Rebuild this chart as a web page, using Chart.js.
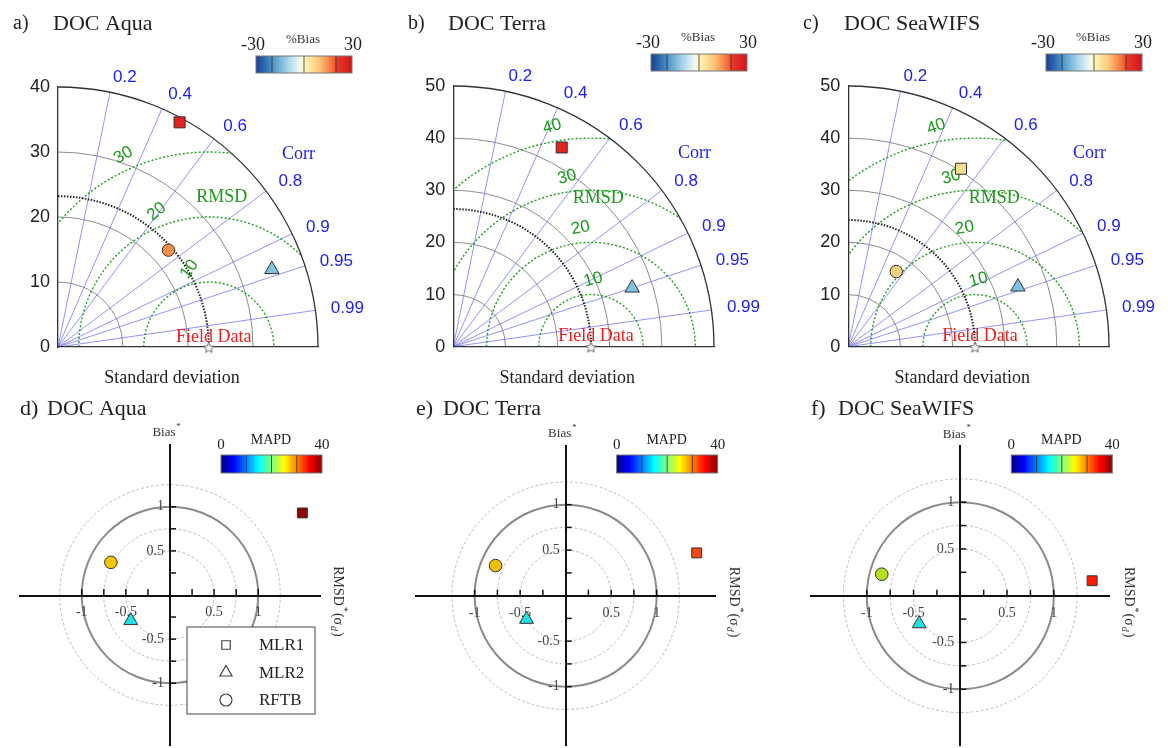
<!DOCTYPE html>
<html lang="en">
<head>
<meta charset="UTF-8">
<title>DOC - Taylor and target diagrams</title>
<script src="https://cdn.jsdelivr.net/npm/chart.js"></script>
<style>
  body { margin: 0; background: #fff; overflow: hidden; width: 1168px; height: 748px; }
  canvas { position: absolute; }
</style>
</head>
<body>
<canvas id="pa" width="390" height="390" style="left:0;top:0"></canvas>
<canvas id="pb" width="390" height="390" style="left:390px;top:0"></canvas>
<canvas id="pc" width="388" height="390" style="left:780px;top:0"></canvas>
<canvas id="pd" width="390" height="380" style="left:0;top:390px"></canvas>
<canvas id="pe" width="390" height="380" style="left:390px;top:390px"></canvas>
<canvas id="pf" width="388" height="380" style="left:780px;top:390px"></canvas>
<script>
// ---------------- data ----------------
const panelNames = ['DOC Aqua', 'DOC Terra', 'DOC SeaWIFS'];
const modelNames = ['MLR1', 'MLR2', 'RFTB'];

// Taylor diagrams (a-c)
const stdMax = [40, 50, 50];
const fieldStd = [23.2, 26.4, 24.3];
const corrTicks = [0.2, 0.4, 0.6, 0.8, 0.9, 0.95, 0.99];
const stdArcs = [[10, 20, 30], [10, 20, 30, 40], [10, 20, 30, 40]];
const rmsdArcs = [[10, 20, 30], [10, 20, 30, 40], [10, 20, 30, 40]];
const mlr1Std = [39.3, 43.5, 40.4];
const mlr1Corr = [0.476, 0.478, 0.535];
const mlr2Std = [35.0, 36.1, 34.5];
const mlr2Corr = [0.940, 0.950, 0.943];
const rftbStd = [22.6, null, 17.1];
const rftbCorr = [0.752, null, 0.538];

// Target diagrams (d-f), normalised
const mlr1Rmsd = [1.50, 1.44, 1.41];
const mlr1Bias = [0.93, 0.47, 0.16];
const mlr2Rmsd = [-0.445, -0.43, -0.44];
const mlr2Bias = [-0.29, -0.26, -0.30];
const rftbRmsd = [-0.67, -0.77, -0.84];
const rftbBias = [0.37, 0.33, 0.23];
const targetTickLabels = [-1, -0.5, 0.5, 1];
const targetTickMarks = [-1, -0.75, -0.5, -0.25, 0.25, 0.5, 0.75, 1];
const targetRings = [0.5, 0.75, 1, 1.25];

// ---------------- styles ----------------
const SERIF = '"Liberation Serif", "Times New Roman", serif';
const SANS = '"Liberation Sans", Arial, sans-serif';
Chart.defaults.font.family = SANS;

// marker colours (from the %Bias and MAPD colour bars)
const biasColor = {
  MLR1: ['#e4211c', '#e4231f', '#fbdc8c'],
  MLR2: ['#80c4df', '#80c4df', '#7cc2de'],
  RFTB: ['#f0904b', null, '#f7d27c']
};
const mapdColor = {
  MLR1: ['#8c0000', '#f24a12', '#ff1a00'],
  MLR2: ['#22e0e4', '#22e0e4', '#22e0e4'],
  RFTB: ['#f5c400', '#f3c000', '#b5e01e']
};
const shapes = { MLR1: 'rect', MLR2: 'triangle', RFTB: 'circle' };
const radiusTaylor = { MLR1: 7.8, MLR2: 8.3, RFTB: 6.2 };
const radiusTarget = { MLR1: 7, MLR2: 8, RFTB: 6.3 };

const taylorLayout = [
  { pad: {left: 18, right: 72, top: 87, bottom: 43}, letterX: 13, nameX: 53, bar: [256, 56],
    rmsdText: [25.2, 23.1], rmsdLab: [[104, -55], [111, -40], [114, -30]] },
  { pad: {left: 23.3, right: 66, top: 86, bottom: 43.3}, letterX: 18, nameX: 58, bar: [261, 54],
    rmsdText: [27.8, 28.4], rmsdLab: [[88, -15], [95, -10], [98, -15], [100, -15]] },
  { pad: {left: 28.3, right: 59, top: 86, bottom: 43.3}, letterX: 23, nameX: 64, bar: [266, 54],
    rmsdText: [28, 28.4], rmsdLab: [[87, -15], [95, -10], [98, -15], [100, -20]] }
];
const targetLimit = [1.7, 1.65, 1.6];
const targetLayout = [
  { pad: {left: 20, right: 70, top: 55, bottom: 25}, letterX: 20, nameX: 47 },
  { pad: {left: 25.5, right: 64.2, top: 55.5, bottom: 24.2}, letterX: 26, nameX: 53 },
  { pad: {left: 30.7, right: 58.1, top: 56.1, bottom: 24.7}, letterX: 31, nameX: 58 }
];

const biasStops = [[0, '#1c3f94'], [0.08, '#2c64ad'], [0.17, '#4b93c6'], [0.33, '#a6d4ea'],
  [0.46, '#f1f9f4'], [0.5, '#fff7bb'], [0.66, '#fdc474'], [0.8, '#f46a38'], [0.85, '#e8362a'], [1, '#cf161c']];
const jetStops = [[0, '#000080'], [0.125, '#0000ff'], [0.375, '#00ffff'], [0.5, '#80ff80'],
  [0.625, '#ffff00'], [0.875, '#ff0000'], [1, '#800000']];

function starImage(size) {
  const c = document.createElement('canvas');
  c.width = c.height = size;
  const g = c.getContext('2d');
  const r = size / 2 - 1, m = size / 2;
  g.beginPath();
  for (let j = 0; j < 10; j++) {
    const rr = j % 2 ? r * 0.45 : r;
    const a = -Math.PI / 2 + j * Math.PI / 5;
    g.lineTo(m + rr * Math.cos(a), m + 1 + rr * Math.sin(a));
  }
  g.closePath();
  g.fillStyle = '#fff'; g.fill();
  g.strokeStyle = '#666'; g.lineWidth = 1; g.stroke();
  return c;
}

function colorBar(ctx, x0, y0, w, h, stops, cuts) {
  const g = ctx.createLinearGradient(x0, 0, x0 + w, 0);
  stops.forEach(s => g.addColorStop(s[0], s[1]));
  ctx.fillStyle = g;
  ctx.fillRect(x0, y0, w, h);
  ctx.strokeStyle = 'rgba(40,40,40,0.75)';
  ctx.lineWidth = 1;
  cuts.forEach(f => {
    ctx.beginPath(); ctx.moveTo(x0 + f * w, y0); ctx.lineTo(x0 + f * w, y0 + h); ctx.stroke();
  });
  ctx.strokeStyle = '#777';
  ctx.strokeRect(x0, y0, w, h);
}

function text(ctx, str, x, y, font, color, align, base) {
  ctx.font = font;
  ctx.fillStyle = color;
  ctx.textAlign = align || 'center';
  ctx.textBaseline = base || 'middle';
  ctx.fillText(str, x, y);
}

// ---------------- Taylor diagrams ----------------
const taylorDeco = {
  id: 'taylorDeco',
  beforeDraw(chart, args, o) {
    const i = o.idx;
    const {ctx} = chart;
    const xs = chart.scales.x, ys = chart.scales.y;
    const R = stdMax[i], ref = fieldStd[i];
    const ox = xs.getPixelForValue(0), oy = ys.getPixelForValue(0);
    const k = xs.getPixelForValue(1) - ox;
    ctx.save();
    // standard deviation arcs
    ctx.strokeStyle = '#8c8c8c'; ctx.lineWidth = 1;
    stdArcs[i].forEach(s => {
      ctx.beginPath(); ctx.arc(ox, oy, s * k, -Math.PI / 2, 0); ctx.stroke();
    });
    // correlation rays
    ctx.strokeStyle = 'rgba(110,110,255,0.75)';
    corrTicks.forEach(c => {
      const a = Math.acos(c);
      ctx.beginPath(); ctx.moveTo(ox, oy);
      ctx.lineTo(xs.getPixelForValue(R * Math.cos(a)), ys.getPixelForValue(R * Math.sin(a)));
      ctx.stroke();
    });
    // RMSD arcs round the field point, kept inside the quarter circle
    ctx.save();
    ctx.beginPath(); ctx.moveTo(ox, oy); ctx.arc(ox, oy, R * k, -Math.PI / 2, 0); ctx.closePath(); ctx.clip();
    ctx.strokeStyle = '#1aa31a'; ctx.lineWidth = 1.4; ctx.setLineDash([2, 2]);
    rmsdArcs[i].forEach(r => {
      ctx.beginPath(); ctx.arc(xs.getPixelForValue(ref), oy, r * k, Math.PI, 2 * Math.PI); ctx.stroke();
    });
    ctx.restore();
    // field data std arc
    ctx.strokeStyle = '#222'; ctx.lineWidth = 2; ctx.setLineDash([1.5, 1.5]);
    ctx.beginPath(); ctx.arc(ox, oy, ref * k, -Math.PI / 2, 0); ctx.stroke();
    ctx.setLineDash([]);
    // outer arc
    ctx.strokeStyle = '#333'; ctx.lineWidth = 1.3;
    ctx.beginPath(); ctx.arc(ox, oy, R * k, -Math.PI / 2, 0); ctx.stroke();

    // correlation labels
    corrTicks.forEach(c => {
      const a = Math.acos(c);
      text(ctx, String(c), xs.getPixelForValue(1.06 * R * Math.cos(a)), ys.getPixelForValue(1.06 * R * Math.sin(a)),
        '17px ' + SANS, '#1c1cf5', 'left');
    });
    text(ctx, 'Corr', xs.getPixelForValue(0.925 * R), ys.getPixelForValue(0.742 * R), '18px ' + SERIF, '#1c1cf5');
    // RMSD labels
    const L = taylorLayout[i];
    rmsdArcs[i].forEach((r, j) => {
      const th = L.rmsdLab[j][0] * Math.PI / 180;
      const rr = r * k + 15;
      ctx.save();
      ctx.translate(xs.getPixelForValue(ref) + rr * Math.cos(th), oy - rr * Math.sin(th));
      ctx.rotate(L.rmsdLab[j][1] * Math.PI / 180);
      text(ctx, String(r), 0, 0, '17px ' + SANS, '#1a9a1a');
      ctx.restore();
    });
    text(ctx, 'RMSD', xs.getPixelForValue(L.rmsdText[0]), ys.getPixelForValue(L.rmsdText[1]), '18px ' + SERIF, '#1a9a1a');
    text(ctx, 'Field Data', xs.getPixelForValue(ref) + 5, oy - 10, '18px ' + SERIF, '#ee1c1c');
    text(ctx, 'Standard deviation', ox + 114, oy + 31.5, '18px ' + SERIF, '#222');
    ctx.restore();
  },
  afterDraw(chart, args, o) {
    const i = o.idx, L = taylorLayout[i];
    const {ctx} = chart;
    ctx.save();
    text(ctx, ['a)', 'b)', 'c)'][i], L.letterX, 29, '20px ' + SERIF, '#222', 'left', 'alphabetic');
    text(ctx, panelNames[i], L.nameX, 30, '22px ' + SERIF, '#222', 'left', 'alphabetic');
    const [bx, by] = L.bar;
    colorBar(ctx, bx, by, 96, 17, biasStops, [1 / 6, 0.5, 5 / 6]);
    text(ctx, '-30', bx - 3, by - 11, '18px ' + SERIF, '#222');
    text(ctx, '30', bx + 97, by - 11, '18px ' + SERIF, '#222');
    text(ctx, '%Bias', bx + 47, by - 16, '13px ' + SERIF, '#333');
    ctx.restore();
  }
};

function taylorPoint(std, corr) {
  return { x: std * corr, y: std * Math.sqrt(1 - corr * corr) };
}

const starImg = starImage(13);

function makeTaylor(id, i) {
  const series = { MLR1: [mlr1Std, mlr1Corr], MLR2: [mlr2Std, mlr2Corr], RFTB: [rftbStd, rftbCorr] };
  const datasets = modelNames.map(name => {
    const [s, c] = series[name];
    return {
      label: name,
      data: s[i] == null ? [] : [taylorPoint(s[i], c[i])],
      pointStyle: shapes[name],
      pointRadius: radiusTaylor[name],
      backgroundColor: biasColor[name][i],
      borderColor: '#333',
      borderWidth: 1,
      clip: false
    };
  });
  datasets.push({
    label: 'Field Data', data: [{ x: fieldStd[i], y: 0 }],
    pointStyle: starImg, pointRadius: 7, clip: false
  });
  const R = stdMax[i];
  new Chart(document.getElementById(id), {
    type: 'scatter',
    data: { datasets },
    options: {
      responsive: false, animation: false, devicePixelRatio: 1,
      layout: { padding: taylorLayout[i].pad, autoPadding: false },
      plugins: { legend: { display: false }, tooltip: { enabled: false }, taylorDeco: { idx: i } },
      scales: {
        x: {
          min: 0, max: R,
          ticks: { display: false },
          grid: { display: false, drawTicks: false },
          border: { display: true, color: '#333', width: 1.3 },
          afterFit: s => { s.height = 0; }
        },
        y: {
          min: 0, max: R,
          ticks: { stepSize: 10, padding: 8, color: '#222', font: { size: 18 } },
          grid: { display: false, drawTicks: false },
          border: { display: true, color: '#333', width: 1.3 },
          afterFit: s => { s.width = 40; }
        }
      }
    },
    plugins: [taylorDeco]
  });
}

// ---------------- Target diagrams ----------------
function drawShape(ctx, shape, x, y, r) {
  ctx.beginPath();
  if (shape === 'rect') {
    const h = r * Math.SQRT1_2;
    ctx.rect(x - h, y - h, 2 * h, 2 * h);
  } else if (shape === 'triangle') {
    for (let j = 0; j < 3; j++) {
      const a = j * 2 * Math.PI / 3;
      ctx.lineTo(x + Math.sin(a) * r, y - Math.cos(a) * r);
    }
    ctx.closePath();
  } else {
    ctx.arc(x, y, r, 0, 2 * Math.PI);
  }
  ctx.stroke();
}

const targetDeco = {
  id: 'targetDeco',
  beforeDraw(chart, args, o) {
    const {ctx} = chart;
    const xs = chart.scales.x, ys = chart.scales.y;
    const cx = xs.getPixelForValue(0), cy = ys.getPixelForValue(0);
    const k = xs.getPixelForValue(1) - cx;
    ctx.save();
    targetRings.forEach(r => {
      ctx.beginPath();
      if (r === 1) { ctx.strokeStyle = '#8a8a8a'; ctx.lineWidth = 2; ctx.setLineDash([]); }
      else { ctx.strokeStyle = '#bdbdbd'; ctx.lineWidth = 1; ctx.setLineDash([3, 2]); }
      ctx.arc(cx, cy, r * k, 0, 2 * Math.PI);
      ctx.stroke();
    });
    ctx.restore();
  },
  afterDatasetsDraw(chart, args, o) {
    const i = o.idx, L = targetLayout[i];
    const {ctx} = chart;
    const xs = chart.scales.x, ys = chart.scales.y;
    const cx = xs.getPixelForValue(0), cy = ys.getPixelForValue(0);
    ctx.save();
    // tick marks on the inner side of the axes
    ctx.strokeStyle = '#111'; ctx.lineWidth = 1.5;
    targetTickMarks.forEach(v => {
      const px = xs.getPixelForValue(v), py = ys.getPixelForValue(v);
      ctx.beginPath(); ctx.moveTo(px, cy); ctx.lineTo(px, cy - 6); ctx.stroke();
      ctx.beginPath(); ctx.moveTo(cx, py); ctx.lineTo(cx + 6, py); ctx.stroke();
    });
    // axis names
    ctx.font = '13px ' + SERIF;
    const bw = ctx.measureText('Bias').width;
    text(ctx, 'Bias', cx - 3 - 3, chart.chartArea.top - 12, '13px ' + SERIF, '#333');
    text(ctx, '*', cx - 6 + bw / 2 + 3, chart.chartArea.top - 18, '9px ' + SERIF, '#333');
    ctx.save();
    ctx.translate(cx + 168, cy + 7);
    ctx.rotate(Math.PI / 2);
    const parts = [['RMSD', '14px ', 0], ['*', '10px ', -6], ['(σ', '14px ', 0], ['d', 'italic 10px ', 4], [')', '14px ', 0]];
    let tw = 0;
    parts.forEach(p => { ctx.font = p[1] + SERIF; tw += ctx.measureText(p[0]).width + 1; });
    let tx = -tw / 2;
    parts.forEach(p => {
      text(ctx, p[0], tx, p[2], p[1] + SERIF, '#333', 'left');
      tx += ctx.measureText(p[0]).width + 1;
    });
    ctx.restore();
    // MAPD colour bar
    const bx = cx + 51, by = 65;
    colorBar(ctx, bx, by, 101, 18, jetStops, [0.25, 0.5, 0.75]);
    text(ctx, '0', bx, by - 10, '15px ' + SERIF, '#222');
    text(ctx, '40', bx + 101, by - 10, '15px ' + SERIF, '#222');
    text(ctx, 'MAPD', bx + 50, by - 15, '14px ' + SERIF, '#222');
    // title
    text(ctx, ['d)', 'e)', 'f)'][i], L.letterX, 25, '22px ' + SERIF, '#222', 'left', 'alphabetic');
    text(ctx, panelNames[i], L.nameX, 25, '22px ' + SERIF, '#222', 'left', 'alphabetic');
    // legend (first panel only)
    if (i === 0) {
      const lx = cx + 17, ly = cy + 32, lw = 128, lh = 87;
      ctx.fillStyle = '#fff'; ctx.fillRect(lx, ly, lw, lh);
      ctx.strokeStyle = '#444'; ctx.lineWidth = 1; ctx.strokeRect(lx, ly, lw, lh);
      modelNames.forEach((name, j) => {
        const yy = ly + 18 + j * 27.5;
        ctx.strokeStyle = '#444'; ctx.lineWidth = 1.2;
        drawShape(ctx, shapes[name], lx + 39, yy, name === 'MLR2' ? 7 : 6);
        text(ctx, name, lx + 72, yy + 1, '17px ' + SERIF, '#222', 'left');
      });
    }
    ctx.restore();
  }
};

function makeTarget(id, i) {
  const series = { MLR1: [mlr1Rmsd, mlr1Bias], MLR2: [mlr2Rmsd, mlr2Bias], RFTB: [rftbRmsd, rftbBias] };
  const datasets = modelNames.map(name => ({
    label: name,
    data: [{ x: series[name][0][i], y: series[name][1][i] }],
    pointStyle: shapes[name],
    pointRadius: radiusTarget[name],
    backgroundColor: mapdColor[name][i],
    borderColor: '#333',
    borderWidth: 1,
    clip: false
  }));
  const lim = targetLimit[i];
  const fmt = v => targetTickLabels.includes(v) ? String(v).replace(/^(-?)0\./, '$10.') : '';
  const axisBase = {
    min: -lim, max: lim, position: 'center',
    grid: { display: false, drawTicks: false },
    border: { display: true, color: '#111', width: 2 }
  };
  new Chart(document.getElementById(id), {
    type: 'scatter',
    data: { datasets },
    options: {
      responsive: false, animation: false, devicePixelRatio: 1,
      layout: { padding: targetLayout[i].pad, autoPadding: false },
      plugins: { legend: { display: false }, tooltip: { enabled: false }, targetDeco: { idx: i } },
      scales: {
        x: Object.assign({}, axisBase, {
          ticks: { stepSize: 0.25, autoSkip: false, maxRotation: 0, padding: 9, color: '#444',
                   font: { family: SERIF, size: 14 }, callback: fmt }
        }),
        y: Object.assign({}, axisBase, {
          ticks: { stepSize: 0.25, autoSkip: false, padding: 6, color: '#444',
                   font: { family: SERIF, size: 14 }, callback: fmt }
        })
      }
    },
    plugins: [targetDeco]
  });
}

['pa', 'pb', 'pc'].forEach((id, i) => makeTaylor(id, i));
['pd', 'pe', 'pf'].forEach((id, i) => makeTarget(id, i));
</script>
</body>
</html>
